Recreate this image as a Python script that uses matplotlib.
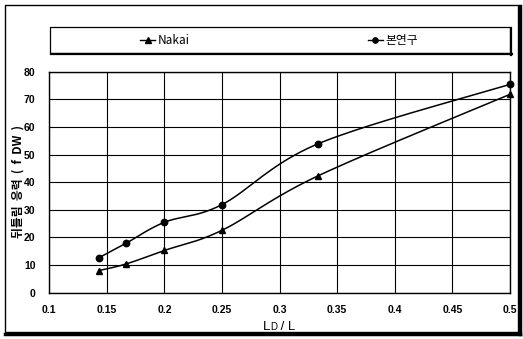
import numpy as np
import matplotlib
matplotlib.use("Agg")
import matplotlib.pyplot as plt
from matplotlib.lines import Line2D
from matplotlib.patches import Rectangle

# ---- data ----
x_vals = [1/7, 1/6, 0.2, 0.25, 1/3, 0.5]
nakai = [8.0, 10.4, 15.3, 22.6, 42.3, 71.8]
bonyeongu = [12.6, 17.9, 25.5, 31.9, 53.9, 75.4]
series_names = ["Nakai", "본연구"]
x_ticks = [0.1, 0.15, 0.2, 0.25, 0.3, 0.35, 0.4, 0.45, 0.5]
y_ticks = [0, 10, 20, 30, 40, 50, 60, 70, 80]

W, H = 523, 339
fig = plt.figure(figsize=(W/100, H/100), dpi=100)
fig.patch.set_facecolor("white")

L, R, T, B = 49.3, 510.0, 71.7, 292.7
ax = fig.add_axes([L/W, 1-B/H, (R-L)/W, (B-T)/H])

KFONT = ["Noto Sans CJK KR", "DejaVu Sans"]
NFONT = ["Liberation Sans", "DejaVu Sans"]


def smooth(xs, ys, sx, sy, n=40):
    # Excel-like smoothed line (cardinal bezier, tension 1/6) in pixel space
    P = np.column_stack([np.asarray(xs) * sx, np.asarray(ys) * sy])
    m = len(P)
    out = []
    for i in range(m - 1):
        p0 = P[i - 1] if i > 0 else P[i]
        p1 = P[i]
        p2 = P[i + 1]
        p3 = P[i + 2] if i + 2 < m else P[i + 1]
        c1 = p1 + (p2 - p0) / 6
        c2 = p2 - (p3 - p1) / 6
        t = np.linspace(0, 1, n)[:, None]
        seg = ((1-t)**3) * p1 + 3*((1-t)**2)*t*c1 + 3*(1-t)*t**2*c2 + t**3*p2
        out.append(seg if i == 0 else seg[1:])
    Q = np.vstack(out)
    return Q[:, 0] / sx, Q[:, 1] / sy


sx = (R - L) / 0.4
sy = (B - T) / 80.0
for ys, mk, ms in [(nakai, "^", 4.8), (bonyeongu, "o", 4.6)]:
    cx, cy = smooth(x_vals, ys, sx, sy)
    ax.plot(cx, cy, color="black", lw=1.1, zorder=3, clip_on=False)
    ax.plot(x_vals, ys, ls="none", marker=mk, ms=ms, color="black", zorder=4, clip_on=False)

ax.set_xlim(0.1, 0.5)
ax.set_ylim(0, 80)
ax.set_xticks(x_ticks)
ax.set_yticks(y_ticks)
ax.set_xticklabels([f"{v:g}" for v in x_ticks], fontfamily=NFONT, fontweight="bold", fontsize=7.5)
ax.set_yticklabels([str(v) for v in y_ticks], fontfamily=NFONT, fontweight="bold", fontsize=7.5)
ax.tick_params(axis="x", length=0, pad=8.5)
ax.tick_params(axis="y", length=0, pad=10)
ax.grid(True, color="black", lw=0.8)
ax.set_axisbelow(True)
for s in ax.spines.values():
    s.set_color("black")
    s.set_linewidth(1.0)

# x label: L with small-cap D, / L  (all on one baseline)
ybl = -0.169
t1 = ax.text(0.464, ybl, "L", transform=ax.transAxes, ha="left", va="baseline",
             fontfamily=NFONT, fontsize=9.5)
t2 = ax.annotate("D", xy=(1, ybl), xycoords=(t1, "axes fraction"), ha="left", va="baseline",
                 fontfamily=NFONT, fontsize=7)
t3 = ax.annotate(" / L", xy=(1, ybl), xycoords=(t2, "axes fraction"), ha="left", va="baseline",
                 fontfamily=NFONT, fontsize=9.5)

# y label
fig.text(18/W, 1-181/H, "뒤틀림  응력  (  f  DW  )", rotation=90, ha="center", va="center",
         fontfamily=KFONT, fontweight="bold", fontsize=8.5)

# outer frame with shadow
fig.add_artist(Rectangle((5/W, 1-332/H), 513/W, 327/H, transform=fig.transFigure,
                         fill=False, ec="black", lw=1.0))
fig.add_artist(Line2D([5/W, 520/W], [1-334/H, 1-334/H], transform=fig.transFigure, color="black", lw=2.5))
fig.add_artist(Line2D([519.5/W, 519.5/W], [1-334/H, 1-6/H], transform=fig.transFigure, color="black", lw=2.5))

# legend box with shadow
fig.add_artist(Rectangle((50/W, 1-53/H), 460/W, 26/H, transform=fig.transFigure,
                         fill=False, ec="black", lw=0.9))
fig.add_artist(Line2D([51/W, 511.5/W], [1-53.8/H, 1-53.8/H], transform=fig.transFigure, color="black", lw=1.6))
fig.add_artist(Line2D([511/W, 511/W], [1-54.5/H, 1-28/H], transform=fig.transFigure, color="black", lw=1.6))

handles = [Line2D([], [], color="black", lw=1.0, marker="^", ms=4.0),
           Line2D([], [], color="black", lw=1.0, marker="o", ms=3.8)]
centers = [165, 393]
for h, name, c in zip(handles, series_names, centers):
    lg = fig.legend(handles=[h], labels=[name], loc="center",
                    bbox_to_anchor=(c/W, 1-40.5/H), frameon=False,
                    handlelength=1.3, handletextpad=0.25, borderpad=0,
                    prop={"family": KFONT, "size": 8.5})

fig.savefig("out.png", dpi=100, facecolor="white")
